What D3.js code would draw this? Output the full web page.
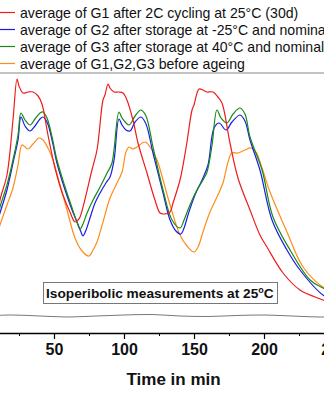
<!DOCTYPE html>
<html>
<head>
<meta charset="utf-8">
<script src="https://cdn.jsdelivr.net/npm/d3@7"></script>
<style>
  body { margin: 0; background: #fff; }
  svg { display: block; font-family: "Liberation Sans", Arial, sans-serif; }
</style>
</head>
<body>
<svg id="chart" width="324" height="400"></svg>
<script>
// heat flow (arbitrary units) vs. time in min
const g1Cycled = [[7.9,86],[11.4,116],[16.4,141],[20.7,196],[23.6,237],[25.0,230],[27.9,223],[31.4,224],[35.0,224],[38.6,220],[41.4,212],[45.7,181],[50.7,148],[56.4,121],[61.4,104],[65.0,94],[67.1,96],[68.6,99],[77.1,146],[80.7,166],[85.0,216],[86.4,221],[88.6,232],[90.0,228],[92.9,224],[96.4,224],[99.3,223],[102.1,216],[106.4,196],[110.0,173],[116.4,143],[122.1,116],[125.7,103],[127.9,102],[132.9,104],[135.0,113],[140.0,136],[144.3,168],[148.6,206],[150.0,211],[153.6,227],[156.4,226],[159.3,224],[163.6,224],[167.1,219],[170.0,213],[175.7,173],[181.4,138],[190.0,106],[197.1,81],[202.1,69],[213.6,43],[225.7,26],[242.1,16],[250.7,11]];

const g2Cold = [[7.9,86],[11.4,103],[16.4,126],[20.7,153],[24.3,176],[26.4,199],[29.3,190],[32.9,185],[36.4,190],[40.0,197],[42.1,199],[45.0,194],[48.6,176],[52.1,153],[57.9,126],[62.9,106],[66.4,94],[69.3,84],[70.7,80],[72.9,86],[75.7,98],[79.3,113],[82.9,123],[87.1,133],[90.0,139],[92.9,156],[96.4,197],[98.6,191],[101.4,186],[104.3,185],[107.9,194],[112.1,199],[115.7,192],[120.7,163],[127.9,123],[132.9,96],[137.1,85],[140.7,82],[142.9,88],[145.7,101],[150.7,121],[156.4,138],[160.0,151],[164.3,188],[167.9,193],[172.9,186],[177.1,194],[182.9,201],[186.4,195],[190.0,176],[197.1,146],[205.7,96],[216.4,66],[225.7,46],[242.1,21],[250.7,16]];

const g3Warm = [[7.9,91],[11.4,109],[16.4,131],[20.7,156],[24.3,181],[26.4,203],[29.3,196],[32.9,191],[36.4,197],[40.0,203],[42.1,204],[45.0,198],[48.6,179],[52.1,156],[57.9,129],[62.9,108],[66.4,94],[68.6,87],[70.7,92],[73.6,103],[77.9,116],[82.9,129],[87.9,143],[91.4,153],[96.4,204],[98.6,198],[103.6,191],[107.9,200],[112.1,206],[115.7,200],[120.7,169],[127.9,126],[134.3,96],[140.0,88],[142.9,96],[147.1,111],[152.1,126],[156.4,136],[159.3,144],[162.9,171],[166.4,206],[169.3,198],[173.6,193],[177.9,202],[182.9,208],[186.4,202],[190.0,179],[198.6,146],[206.4,99],[218.6,66],[232.9,36],[242.1,28],[250.7,23]];

const gFresh = [[7.9,76],[11.4,91],[16.4,111],[20.7,128],[24.3,151],[27.1,171],[29.3,169],[31.4,167],[35.0,172],[39.3,178],[42.1,176],[45.7,168],[49.3,156],[54.3,131],[59.3,106],[65.0,78],[70.0,65],[75.0,60],[77.9,66],[80.7,74],[85.0,94],[90.0,118],[94.3,131],[98.6,144],[101.4,164],[103.6,169],[106.4,167],[109.3,169],[115.0,174],[118.6,169],[123.6,156],[127.9,136],[132.9,111],[140.0,81],[145.0,70],[150.0,64],[152.9,69],[156.4,84],[161.4,104],[166.4,119],[170.7,133],[174.3,154],[177.1,163],[181.4,163],[186.4,166],[190.7,168],[194.3,164],[198.6,148],[204.3,124],[216.4,84],[227.9,49],[242.1,29],[250.7,24]];

const baseline = [[0,0],[20,1],[40,0],[60,-1],[80,0],[100,1],[120,1.5],[140,0],[160,-0.5],[180,0.5],[200,1],[220,0],[240,-1],[260,0]];

const seriesNames = [
  "average of G1 after 2C cycling at 25°C (30d)",
  "average of G2 after storage at -25°C and nominal voltage",
  "average of G3 after storage at 40°C and nominal voltage",
  "average of G1,G2,G3 before ageing"
];
const seriesColors = ["#ee1c1c", "#1c1ce6", "#168a16", "#ff8c1a"];
const majorTicks = [0, 50, 100, 150, 200, 250];
const minorTicks = [25, 75, 125, 175, 225];

const svg = d3.select("#chart");

const x = d3.scaleLinear().domain([0, 260]).range([-16, 348]);
const y = d3.scaleLinear().domain([0, 250]).range([316, 66]);

const line = d3.line()
  .x(d => x(d[0]))
  .y(d => y(d[1]))
  .curve(d3.curveCatmullRom.alpha(0.5));

// baseline run
svg.append("path")
  .datum(baseline)
  .attr("fill", "none")
  .attr("stroke", "#555")
  .attr("stroke-width", 0.8)
  .attr("d", line);

const allSeries = [gFresh, g2Cold, g3Warm, g1Cycled];
const allColors = [seriesColors[3], seriesColors[1], seriesColors[2], seriesColors[0]];
allSeries.forEach((s, i) => {
  svg.append("path")
    .datum(s)
    .attr("fill", "none")
    .attr("stroke", allColors[i])
    .attr("stroke-width", 1.2)
    .attr("d", line);
});

// x axis
const axisG = svg.append("g").attr("transform", "translate(0,333)");
axisG.call(d3.axisBottom(x).tickValues(majorTicks).tickSize(6).tickSizeOuter(0).tickPadding(5));
axisG.select(".domain").attr("stroke-width", 1.5);
axisG.selectAll(".tick line").attr("stroke-width", 1.2);
axisG.selectAll(".tick text")
  .attr("font-family", "Liberation Sans, Arial, sans-serif")
  .attr("font-size", 16)
  .attr("font-weight", "bold")
  .attr("fill", "#111");

svg.append("g")
  .attr("transform", "translate(0,333)")
  .call(d3.axisBottom(x).tickValues(minorTicks).tickSize(3).tickFormat(""))
  .call(g => g.select(".domain").remove());

svg.append("text")
  .attr("x", x(135.4))
  .attr("y", 385)
  .attr("text-anchor", "middle")
  .attr("font-size", 17)
  .attr("font-weight", "bold")
  .attr("fill", "#111")
  .text("Time in min");

// legend
svg.append("rect")
  .attr("x", -5).attr("y", -5)
  .attr("width", 340).attr("height", 78)
  .attr("fill", "#fff")
  .attr("stroke", "#888")
  .attr("stroke-width", 1);

const leg = svg.append("g")
  .selectAll("g")
  .data(seriesNames)
  .join("g")
  .attr("transform", (d, i) => `translate(0,${12.5 + i * 17})`);

leg.append("line")
  .attr("x1", 0).attr("x2", 15)
  .attr("stroke", (d, i) => seriesColors[i])
  .attr("stroke-width", 1.2);

leg.append("text")
  .attr("x", 20)
  .attr("dy", "0.36em")
  .attr("font-size", 14.1)
  .attr("fill", "#111")
  .text(d => d);

// annotation
svg.append("rect")
  .attr("x", 43.5).attr("y", 282.5)
  .attr("width", 234).attr("height", 21)
  .attr("fill", "#fff")
  .attr("stroke", "#777");

const note = svg.append("text")
  .attr("x", 46)
  .attr("y", 298)
  .attr("font-size", 13.7)
  .attr("font-weight", "bold")
  .attr("fill", "#111");
note.append("tspan").text("Isoperibolic measurements at 25");
note.append("tspan").attr("font-size", 9).attr("dy", -5).text("o");
note.append("tspan").attr("dy", 5).text("C");
</script>
</body>
</html>
